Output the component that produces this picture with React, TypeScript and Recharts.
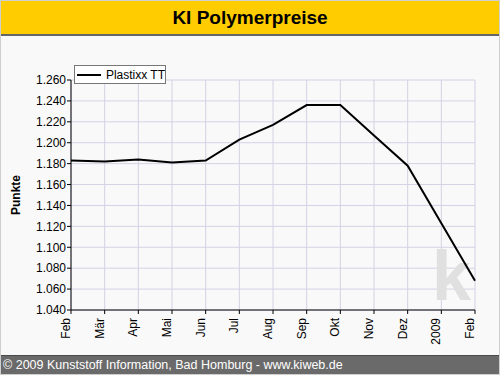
import React from "react"
import {
  CartesianGrid,
  Legend,
  Line,
  LineChart,
  XAxis,
  YAxis,
} from "recharts"

// Monate Feb 2008 – Feb 2009
const months = ["Feb", "Mär", "Apr", "Mai", "Jun", "Jul", "Aug", "Sep", "Okt", "Nov", "Dez", "2009", "Feb"]
// Plastixx TT (Punkte)
const plastixx = [1.183, 1.182, 1.184, 1.181, 1.183, 1.203, 1.217, 1.236, 1.236, 1.207, 1.178, 1.123, 1.068]
const yTicks = [1.04, 1.06, 1.08, 1.1, 1.12, 1.14, 1.16, 1.18, 1.2, 1.22, 1.24, 1.26]

const data = plastixx.map((value, i) => ({ idx: i, value }))
const xTicks = months.map((_, i) => i)

const FONT = "'Liberation Sans', Arial, sans-serif"
const GRID = "#d4d2e4"

function MonthTick(props: any) {
  const { x, y, payload } = props
  return (
    <g transform={`translate(${x},${y})`}>
      <text
        transform="rotate(-90)"
        x={-2}
        dy={-1}
        textAnchor="end"
        fontSize={12}
        fontFamily={FONT}
        fill="#000"
      >
        {months[payload.value]}
      </text>
    </g>
  )
}

function LegendBox() {
  return (
    <div
      style={{
        border: "1px solid #777",
        background: "#fff",
        height: 19,
        width: 92,
        display: "flex",
        alignItems: "center",
        fontFamily: FONT,
        fontSize: 12,
        whiteSpace: "nowrap",
        boxSizing: "border-box",
      }}
    >
      <span style={{ display: "inline-block", width: 24, height: 2, background: "#000", margin: "0 5px 0 2px" }} />
      <span>Plastixx TT</span>
    </div>
  )
}

export default function App() {
  return (
    <div
      style={{
        position: "absolute",
        left: 0,
        top: 0,
        width: 500,
        height: 375,
        background: "#f9f9f9",
        border: "1px solid #cfcfcf",
        boxSizing: "border-box",
        overflow: "hidden",
        fontFamily: FONT,
      }}
    >
      <div
        style={{
          position: "absolute",
          left: 0,
          top: 0,
          right: 0,
          height: 33,
          background: "#ffcc00",
          borderBottom: "2px solid #666",
          textAlign: "center",
          fontWeight: "bold",
          fontSize: 19,
          lineHeight: "34px",
          color: "#000",
        }}
      >
        KI Polymerpreise
      </div>

      <div style={{ position: "absolute", left: -1, top: -1 }}>
        <LineChart width={500} height={375} data={data} margin={{ top: 61, right: 25, bottom: 0, left: 0 }}>
          <CartesianGrid stroke={GRID} strokeWidth={1} />
          <text x={432} y={300} fontSize={70} fontWeight="bold" fontFamily={FONT} fill="#e0e0e0">
            k
          </text>
          <XAxis
            xAxisId="top"
            orientation="top"
            dataKey="idx"
            type="number"
            domain={[0, 12]}
            height={0}
            tick={false}
            tickLine={false}
            axisLine={{ stroke: "#000" }}
          />
          <XAxis
            dataKey="idx"
            type="number"
            domain={[0, 12]}
            ticks={xTicks}
            interval={0}
            height={65}
            tickSize={4}
            tickLine={{ stroke: "#000" }}
            axisLine={{ stroke: "#000" }}
            tick={<MonthTick />}
          />
          <YAxis
            domain={[1.04, 1.26]}
            ticks={yTicks}
            interval={0}
            width={71}
            tickSize={4}
            tickMargin={1}
            tickLine={{ stroke: "#000" }}
            axisLine={{ stroke: "#000" }}
            tick={{ fill: "#000", fontSize: 12, fontFamily: FONT }}
            tickFormatter={(v: number) => v.toFixed(3)}
            label={{
              value: "Punkte",
              angle: -90,
              position: "insideLeft",
              offset: 16,
              style: { textAnchor: "middle", fontWeight: "bold", fontSize: 12, fontFamily: FONT, fill: "#000" },
            }}
          />
          <YAxis
            yAxisId="right"
            orientation="right"
            domain={[1.04, 1.26]}
            width={0}
            tick={false}
            tickLine={false}
            axisLine={{ stroke: "#000" }}
          />
          <Legend
            verticalAlign="top"
            align="left"
            content={() => <LegendBox />}
            wrapperStyle={{ top: 65, left: 74, width: "auto" }}
          />
          <Line
            type="linear"
            dataKey="value"
            stroke="#000"
            strokeWidth={2}
            dot={false}
            isAnimationActive={false}
          />
        </LineChart>
      </div>

      <div
        style={{
          position: "absolute",
          left: 0,
          right: 0,
          bottom: 0,
          height: 18,
          background: "#6a6a6a",
          borderTop: "1px solid #4a4a4a",
          color: "#fff",
          fontSize: 12.5,
          lineHeight: "18px",
          paddingLeft: 2,
        }}
      >
        © 2009 Kunststoff Information, Bad Homburg - www.kiweb.de
      </div>
    </div>
  )
}
